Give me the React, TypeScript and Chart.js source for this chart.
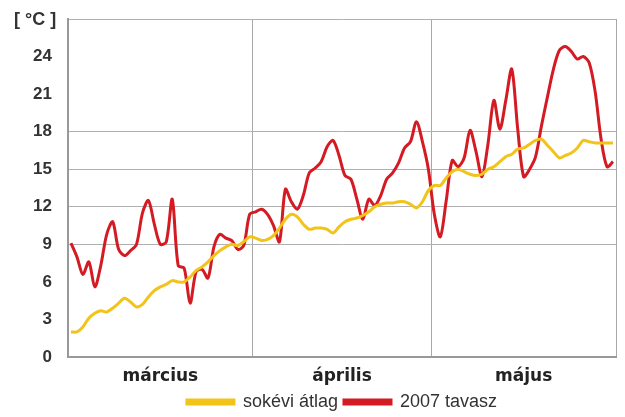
import React, { useEffect, useRef } from 'react';
import { Chart, registerables } from 'chart.js';
Chart.register(...registerables);

const monthNames = ['március', 'április', 'május'];
const monthCenters = [15.5, 46, 76.5];
const monthBoundaries = [0, 31, 61, 92];
const yTicks = [0, 3, 6, 9, 12, 15, 18, 21, 24];
const gridValues = [9, 12, 15, 18, 27];

const avgValues = [
  2.0, 2.0, 2.4, 3.1, 3.5, 3.7, 3.6, 3.9, 4.3, 4.7, 4.4, 4.0, 4.2, 4.8, 5.3, 5.6,
  5.8, 6.1, 6.0, 6.0, 6.4, 6.9, 7.2, 7.6, 8.1, 8.5, 8.8, 9.0, 8.9, 9.2, 9.6,
  9.5, 9.3, 9.4, 9.7, 10.3, 11.0, 11.4, 11.2, 10.6, 10.2, 10.3, 10.3, 10.2, 9.9, 10.4,
  10.8, 11.0, 11.1, 11.3, 11.6, 12.0, 12.2, 12.3, 12.3, 12.4, 12.4, 12.2, 11.9, 12.4, 13.3,
  13.7, 13.7, 14.3, 14.8, 15.0, 14.8, 14.6, 14.5, 14.6, 15.0, 15.2, 15.6, 16.0, 16.2, 16.6,
  16.7, 17.0, 17.3, 17.4, 16.9, 16.4, 15.9, 16.1, 16.3, 16.7, 17.3, 17.2, 17.1, 17.1, 17.1, 17.1,
];

const spring2007 = [
  9.1, 8.0, 6.6, 7.6, 5.6, 7.3, 9.8, 10.8, 8.6, 8.1, 8.5, 9.0, 11.5, 12.5, 10.6, 9.0,
  9.2, 12.6, 7.3, 7.1, 4.3, 6.8, 7.0, 6.3, 8.8, 9.8, 9.5, 9.3, 8.6, 8.9, 11.4,
  11.6, 11.8, 11.4, 10.5, 9.2, 13.4, 12.4, 11.8, 12.9, 14.7, 15.1, 15.6, 16.8, 17.3, 16.1,
  14.5, 14.2, 12.6, 11.0, 12.6, 12.1, 12.9, 14.2, 14.7, 15.5, 16.7, 17.2, 18.8, 17.2, 15.0,
  11.4, 9.6, 12.5, 15.7, 15.2, 15.9, 18.1, 16.4, 14.4, 17.0, 20.5, 18.2, 20.5, 23.0, 18.2,
  14.4, 15.0, 16.0, 18.5, 20.8, 23.0, 24.5, 24.8, 24.4, 23.8, 24.0, 23.5, 21.2, 17.4, 15.2, 15.6,
];

const dayPositions = avgValues.map((_, i) => i + 0.5);

export default function App() {
  const ref = useRef<HTMLCanvasElement | null>(null);
  useEffect(() => {
    if (!ref.current) return;
    const font = "'Liberation Sans', Arial, sans-serif";
    const wideFont = "'DejaVu Sans', 'Liberation Sans', sans-serif";
    const noPad = (axis: any) => {
      axis.paddingTop = 0;
      axis.paddingBottom = 0;
      axis.paddingLeft = 0;
      axis.paddingRight = 0;
    };
    const titlePlugin = {
      id: 'unitTitle',
      afterDraw(chart: any) {
        const c = chart.ctx;
        c.save();
        c.font = `bold 18px ${font}`;
        c.fillStyle = '#333';
        c.textAlign = 'left';
        c.textBaseline = 'middle';
        c.fillText('[ °C ]', 14, 20);
        c.restore();
      },
    };
    const chart = new Chart(ref.current, {
      type: 'line',
      data: {
        datasets: [
          {
            label: 'sokévi átlag',
            data: avgValues.map((v, i) => ({ x: dayPositions[i], y: v })),
            borderColor: '#f2c318',
            backgroundColor: '#f2c318',
            borderWidth: 3,
            pointRadius: 0,
            tension: 0.3,
          },
          {
            label: '2007 tavasz',
            data: spring2007.map((v, i) => ({ x: dayPositions[i], y: v })),
            borderColor: '#d41a22',
            backgroundColor: '#d41a22',
            borderWidth: 3,
            pointRadius: 0,
            tension: 0.3,
          },
        ],
      },
      plugins: [titlePlugin],
      options: {
        animation: false,
        responsive: false,
        maintainAspectRatio: false,
        layout: { padding: { top: 19, right: 9, left: 0, bottom: 0 } },
        plugins: {
          tooltip: { enabled: false },
          legend: {
            position: 'bottom',
            fullSize: false,
            maxHeight: 30,
            labels: {
              boxWidth: 47,
              boxHeight: 4,
              padding: 6,
              color: '#333',
              font: { family: font, size: 18 },
            },
          },
        },
        scales: {
          x: {
            type: 'linear',
            min: 0,
            max: 92,
            afterBuildTicks: (axis: any) => {
              axis.ticks = monthBoundaries.map((v) => ({ value: v }));
            },
            afterFit: (axis: any) => {
              axis.height = 2;
              noPad(axis);
            },
            ticks: { display: false },
            grid: {
              drawTicks: false,
              lineWidth: 1,
              color: (ctx: any) => (ctx.tick && ctx.tick.value > 0 ? '#a8a8a8' : 'rgba(0,0,0,0)'),
            },
            border: { display: true, color: '#999', width: 2 },
          },
          x2: {
            type: 'linear',
            position: 'bottom',
            min: 0,
            max: 92,
            afterBuildTicks: (axis: any) => {
              axis.ticks = monthCenters.map((v) => ({ value: v }));
            },
            afterFit: (axis: any) => {
              axis.height = 28;
              noPad(axis);
            },
            ticks: {
              autoSkip: false,
              maxRotation: 0,
              padding: 7,
              color: '#222',
              font: { family: wideFont, size: 17, weight: 'bold' },
              callback: (_v: any, i: number) => monthNames[i],
            },
            grid: { display: false, drawTicks: false },
            border: { display: false },
          },
          y: {
            min: 0,
            max: 27,
            afterBuildTicks: (axis: any) => {
              axis.ticks = [...yTicks, 27].map((v) => ({ value: v }));
            },
            afterFit: (axis: any) => {
              axis.width = 68;
              noPad(axis);
            },
            ticks: {
              padding: 16,
              color: '#333',
              font: { family: font, size: 17, weight: 'bold' },
              callback: (v: any) => (v === 27 ? '' : String(v)),
            },
            grid: {
              drawTicks: false,
              lineWidth: 1,
              color: (ctx: any) =>
                ctx.tick && gridValues.includes(ctx.tick.value) ? '#b0b0b0' : 'rgba(0,0,0,0)',
            },
            border: { display: true, color: '#999', width: 2 },
          },
        },
      },
    } as any);
    return () => chart.destroy();
  }, []);
  return (
    <div style={{ position: 'absolute', left: 0, top: 0, width: 625, height: 417, background: '#fff' }}>
      <canvas ref={ref} width={625} height={417} style={{ display: 'block' }} />
    </div>
  );
}
